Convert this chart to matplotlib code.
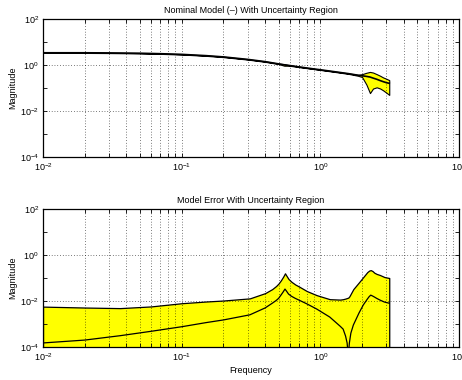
#Nominal model and model error with uncertainty region (MATLAB style bode magnitude plots)

import numpy as np
import matplotlib
matplotlib.use("Agg")
import matplotlib.pyplot as plt
from matplotlib.ticker import FixedLocator, FixedFormatter, NullFormatter

plt.rcParams['font.family'] = ['Liberation Sans', 'DejaVu Sans']
plt.rcParams['mathtext.fontset'] = 'custom'
plt.rcParams['mathtext.rm'] = 'Liberation Sans'
plt.rcParams['mathtext.it'] = 'Liberation Sans'

# top plot: nominal model and its uncertainty band
freq_top = [0.01, 0.02, 0.03, 0.05, 0.07, 0.1, 0.15, 0.2, 0.3, 0.4, 0.5, 0.55, 0.6, 0.7,
            0.8, 1.0, 1.3, 1.6, 1.87, 2.0, 2.15, 2.28, 2.4, 2.55, 2.7, 2.83, 3.0, 3.14]
nominal = [3.4, 3.4, 3.35, 3.25, 3.1, 2.9, 2.55, 2.25, 1.75, 1.4, 1.12, 1.02, 0.95, 0.83,
           0.74, 0.62, 0.5, 0.42, 0.36, 0.34, 0.32, 0.30, 0.27, 0.24, 0.21, 0.19, 0.17, 0.16]
upper_top = [3.45, 3.45, 3.4, 3.3, 3.15, 2.95, 2.6, 2.3, 1.78, 1.43, 1.15, 1.08, 0.97, 0.85,
             0.75, 0.63, 0.51, 0.43, 0.37, 0.40, 0.46, 0.50, 0.47, 0.40, 0.34, 0.29, 0.25, 0.22]
lower_top = [3.35, 3.35, 3.3, 3.2, 3.05, 2.85, 2.5, 2.2, 1.72, 1.37, 1.10, 0.93, 0.93, 0.81,
             0.73, 0.61, 0.49, 0.41, 0.34, 0.30, 0.14, 0.06, 0.095, 0.107, 0.095, 0.08, 0.062, 0.05]

# bottom plot: model error and uncertainty bound
freq_err = [0.01, 0.02, 0.036, 0.06, 0.1, 0.15, 0.2, 0.31, 0.4, 0.45, 0.48, 0.5, 0.52, 0.54,
            0.556, 0.57, 0.59, 0.62, 0.66, 0.7, 0.8, 0.94, 1.17, 1.39, 1.46, 1.52, 1.56, 1.59,
            1.62, 1.66, 1.73, 1.9, 2.04, 2.18, 2.25, 2.31, 2.38, 2.45, 2.55, 2.69, 2.9, 3.14]
upper_err = [0.0057, 0.0052, 0.0049, 0.0058, 0.0080, 0.0095, 0.0105, 0.013, 0.022, 0.033,
             0.045, 0.058, 0.08, 0.115, 0.16, 0.125, 0.09, 0.068, 0.052, 0.043, 0.027, 0.018,
             0.012, 0.0115, 0.012, 0.0128, 0.0135, 0.014, 0.016, 0.021, 0.033, 0.065, 0.11,
             0.18, 0.21, 0.22, 0.2, 0.17, 0.15, 0.135, 0.11, 0.10]
model_err = [1.5e-4, 2.0e-4, 3.1e-4, 4.8e-4, 7.6e-4, 1.15e-3, 1.5e-3, 2.5e-3, 5e-3, 8e-3,
             0.0105, 0.013, 0.018, 0.025, 0.033, 0.027, 0.02, 0.016, 0.013, 0.011, 7.5e-3,
             4.5e-3, 2.0e-3, 8e-4, 6e-4, 3e-4, 1.5e-4, 4e-5, 1.5e-4, 4e-4, 9e-4, 3e-3, 6.7e-3,
             0.012, 0.0155, 0.018, 0.0165, 0.015, 0.013, 0.011, 0.009, 0.008]

xticks = [1e-2, 1e-1, 1e0, 1e1]
xlabels = [r'$10^{-2}$', r'$10^{-1}$', r'$10^{0}$', r'$10^{1}$']
yticks = [1e-4, 1e-2, 1e0, 1e2]
ylabels = [r'$10^{-4}$', r'$10^{-2}$', r'$10^{0}$', r'$10^{2}$']
fs = 6.5

def style_axes(ax, title):
    ax.set_xscale('log')
    ax.set_yscale('log')
    ax.set_xlim(1e-2, 1e1)
    ax.set_ylim(1e-4, 1e2)
    ax.xaxis.set_major_locator(FixedLocator(xticks))
    ax.xaxis.set_major_formatter(FixedFormatter(xlabels))
    minor_x = [m * 10.0**d for d in (-2, -1, 0) for m in range(2, 10)]
    ax.xaxis.set_minor_locator(FixedLocator(minor_x))
    ax.xaxis.set_minor_formatter(NullFormatter())
    ax.yaxis.set_major_locator(FixedLocator(yticks))
    ax.yaxis.set_major_formatter(FixedFormatter(ylabels))
    ax.yaxis.set_minor_locator(FixedLocator([1e-3, 1e-1, 1e1]))
    ax.yaxis.set_minor_formatter(NullFormatter())
    ax.tick_params(which='both', direction='in', top=True, right=True, labelsize=fs, pad=3)
    ax.tick_params(which='major', length=3, width=0.6)
    ax.tick_params(which='minor', length=3, width=0.6)
    ax.grid(True, which='both', axis='x', color='k', linestyle=(0, (1, 3)), linewidth=0.5)
    ax.grid(True, which='major', axis='y', color='k', linestyle=(0, (1, 3)), linewidth=0.5)
    for s in ax.spines.values():
        s.set_linewidth(0.9)
    ax.set_title(title, fontsize=fs, pad=4)
    ax.set_ylabel('Magnitude', fontsize=fs, labelpad=2)
    ax.set_axisbelow(False)

fig = plt.figure(figsize=(4.62, 3.8), dpi=100)
ax1 = fig.add_axes([43/462, 1-157/380, 416/462, 138/380])
ax2 = fig.add_axes([43/462, 1-347/380, 416/462, 138/380])

ax1.fill_between(freq_top, lower_top, upper_top, facecolor='yellow', edgecolor='k', linewidth=0.8)
ax1.plot(freq_top, nominal, 'k', linewidth=1.2)
style_axes(ax1, 'Nominal Model (\u2013) With Uncertainty Region')

ax2.fill_between(freq_err, 1e-6, upper_err, facecolor='yellow', edgecolor='k', linewidth=0.9)
ax2.plot(freq_err, model_err, 'k', linewidth=0.9)
style_axes(ax2, 'Model Error With Uncertainty Region')
ax2.set_xlabel('Frequency', fontsize=fs, labelpad=2)

fig.savefig('out.png', dpi=100)
